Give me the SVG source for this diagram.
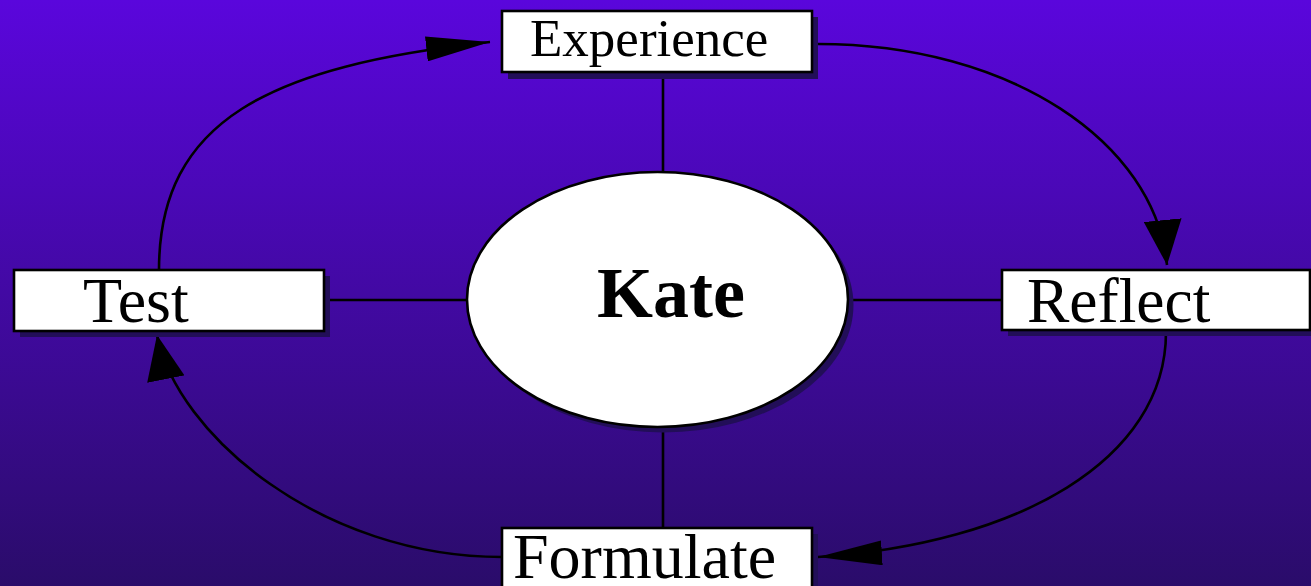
<svg xmlns="http://www.w3.org/2000/svg" width="1311" height="586" viewBox="0 0 1311 586">
  <defs>
    <linearGradient id="bg" x1="0" y1="0" x2="0" y2="1">
      <stop offset="0" stop-color="#5a06dc"/>
      <stop offset="1" stop-color="#2a0c6a"/>
    </linearGradient>
    <marker id="arrowH" viewBox="0 0 64 25" refX="64" refY="12.5" markerWidth="64" markerHeight="25" markerUnits="userSpaceOnUse" orient="auto">
      <path d="M0,0 L64,12.5 L0,25 Z" fill="#000"/>
    </marker>
    <marker id="arrowV" viewBox="0 0 45 38" refX="45" refY="19" markerWidth="45" markerHeight="38" markerUnits="userSpaceOnUse" orient="auto">
      <path d="M0,0 L45,19 L0,38 Z" fill="#000"/>
    </marker>
  </defs>
  <style>
    .line { fill: none; stroke: #000; stroke-width: 2.6; }
    .shadow { fill: #220e58; }
    .box { fill: #fff; stroke: #000; stroke-width: 2.6; }
    .lbl { font-family: "Liberation Serif", "Times New Roman", serif; fill: #000; }
  </style>
  <rect x="0" y="0" width="1311" height="586" fill="url(#bg)"/>

  <g id="connectors">
    <line class="line" x1="663" y1="72" x2="663" y2="172"/>
    <line class="line" x1="663" y1="427" x2="663" y2="528"/>
    <line class="line" x1="324" y1="300" x2="468" y2="300"/>
    <line class="line" x1="848" y1="300" x2="1002" y2="300"/>
    <path class="line" d="M159,270 C159,120 270,66 490,42" marker-end="url(#arrowH)"/>
    <path class="line" d="M818,44 C1010,44 1155,142 1167,265" marker-end="url(#arrowV)"/>
    <path class="line" d="M1166,332 C1166,460 1018,544 818,557" marker-end="url(#arrowH)"/>
    <path class="line" d="M502,557 C322,557 177,435 157,335" marker-end="url(#arrowV)"/>
  </g>

  <g id="experience">
    <rect class="shadow" x="508" y="17" width="310" height="62"/>
    <rect class="box" x="502" y="11" width="310" height="61"/>
    <text class="lbl" x="530" y="56" font-size="53">Experience</text>
  </g>

  <g id="test">
    <rect class="shadow" x="20" y="276" width="310" height="61"/>
    <rect class="box" x="14" y="270" width="310" height="61"/>
    <text class="lbl" x="83" y="322" font-size="64">Test</text>
  </g>

  <g id="reflect">
    <rect class="shadow" x="1008" y="276" width="310" height="60"/>
    <rect class="box" x="1002" y="270" width="308" height="60"/>
    <text class="lbl" x="1027" y="322" font-size="63.5">Reflect</text>
  </g>

  <g id="formulate">
    <rect class="shadow" x="508" y="534" width="310" height="70"/>
    <rect class="box" x="502" y="528" width="310" height="70"/>
    <text class="lbl" x="513" y="578" font-size="64">Formulate</text>
  </g>

  <g id="kate">
    <ellipse class="shadow" cx="663" cy="305" rx="190.5" ry="127.5"/>
    <ellipse class="box" cx="657.5" cy="299.5" rx="190.5" ry="127.5"/>
    <text class="lbl" x="597" y="317" font-size="72" font-weight="bold">Kate</text>
  </g>
</svg>
